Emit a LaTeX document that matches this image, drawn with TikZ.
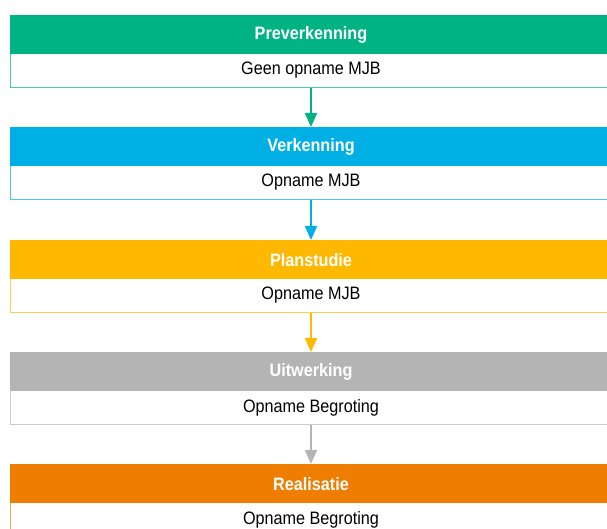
\documentclass[tikz,border=0pt]{standalone}
\usepackage{fontspec}
\setmainfont{Liberation Sans}[FakeStretch=0.9]
\usetikzlibrary{arrows.meta}
\definecolor{cgreen}{RGB}{0,178,132}
\definecolor{cblue}{RGB}{0,176,228}
\definecolor{cyellow}{RGB}{255,184,0}
\definecolor{cgrey}{RGB}{180,180,180}
\definecolor{corange}{RGB}{238,125,0}
\tikzset{
 hdr/.style={fill=#1, draw=none, minimum width=602pt, minimum height=39pt, text=white,
   font=\bfseries\fontsize{18}{20}\selectfont, inner sep=0pt, anchor=north},
 body/.style={draw=#1!70, line width=0.9pt, fill=white, minimum width=602pt, minimum height=34pt,
   font=\fontsize{18}{20}\selectfont, anchor=north, inner sep=0pt},
 conn/.style={draw=#1, line width=2pt, -{Triangle[length=14pt,width=12pt]}}
}
\begin{document}
\begin{tikzpicture}[x=1pt,y=1pt]
\useasboundingbox (0,0) rectangle (607,-529);
\clip (0,0) rectangle (607,-529);
\node[body=cgreen] (b1) at (311,-53) {Geen opname MJB};
\node[hdr=cgreen] (h1) at (311,-15) {Preverkenning};
\node[body=cblue] (b2) at (311,-165) {Opname MJB};
\node[hdr=cblue] (h2) at (311,-127) {Verkenning};
\node[body=cyellow] (b3) at (311,-278) {Opname MJB};
\node[hdr=cyellow] (h3) at (311,-240) {Planstudie};
\node[body=cgrey] (b4) at (311,-390) {Opname Begroting};
\node[hdr=cgrey] (h4) at (311,-352) {Uitwerking};
\node[body=corange] (b5) at (311,-502) {Opname Begroting};
\node[hdr=corange] (h5) at (311,-464) {Realisatie};
\draw[conn=cgreen] (b1.south) -- (h2.north);
\draw[conn=cblue] (b2.south) -- (h3.north);
\draw[conn=cyellow] (b3.south) -- (h4.north);
\draw[conn=cgrey] (b4.south) -- (h5.north);
\end{tikzpicture}
\end{document}
